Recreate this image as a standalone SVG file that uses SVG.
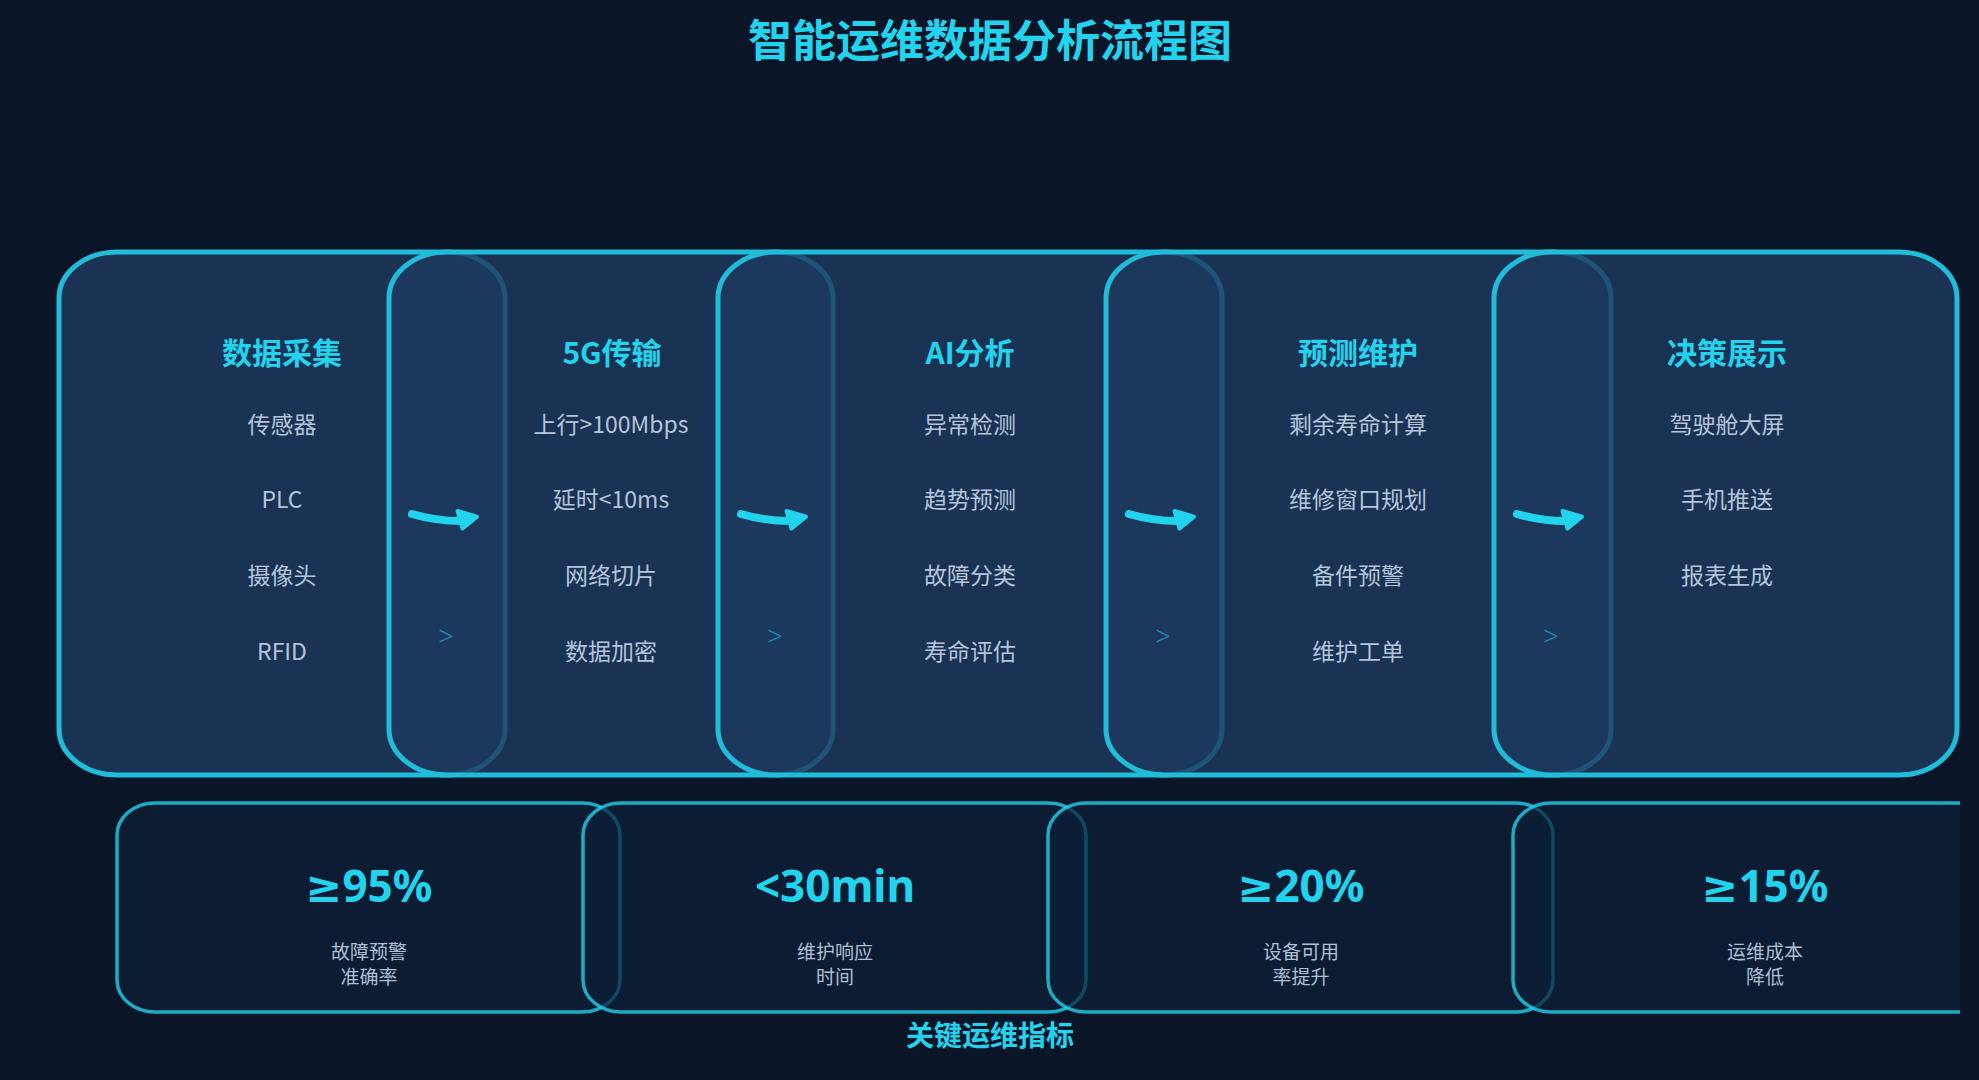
<svg xmlns="http://www.w3.org/2000/svg" xmlns:xlink="http://www.w3.org/1999/xlink" width="1979" height="1080" viewBox="0 0 1979 1080">
  <style>
    text { font-family: "Noto Sans CJK SC", "Microsoft YaHei", "Liberation Sans", sans-serif; text-anchor: middle; }
    .title { font-size: 44px; font-weight: 700; fill: #22d3ee; }
    .stage { fill: rgba(30,58,95,0.8); stroke: #21bcd9; stroke-width: 5; }
    .stage-title { font-size: 30px; font-weight: 700; fill: #22d3ee; }
    .item { font-size: 23px; font-weight: 400; fill: #b4c5da; }
    .metric { fill: rgba(12,32,56,0.7); stroke: rgba(34,211,238,0.78); stroke-width: 3.5; }
    .metric-value { font-family: "Noto Sans", "DejaVu Sans", "Liberation Sans", sans-serif; font-size: 44px; font-weight: 700; fill: #22d3ee; }
    .metric-label { font-size: 19px; font-weight: 400; fill: #adc0d6; }
    .section { font-size: 28px; font-weight: 700; fill: #22d3ee; }
    .chev { font-family: "Noto Sans", "DejaVu Sans", sans-serif; font-size: 27px; font-weight: 300; fill: #1c8db0; }
    .shaft { fill: none; stroke: #22d3ee; stroke-width: 8; stroke-linecap: round; }
    .head { fill: #22d3ee; stroke: #22d3ee; stroke-width: 4; stroke-linejoin: round; }
  </style>
  <defs>
    <clipPath id="viewClip">
      <rect x="0" y="0" width="1960" height="1080"/>
    </clipPath>
    <g id="flow-arrow">
      <path class="shaft" d="M0,0 Q24,7 49,7"/>
      <path class="head" d="M45.5,-3 L65,2.7 L50.5,14.5 Z"/>
    </g>
  </defs>

  <rect x="0" y="0" width="1979" height="1080" fill="#0a1528"/>

  <g id="title">
    <text class="title" x="990" y="57">智能运维数据分析流程图</text>
  </g>

  <g id="stages" clip-path="url(#viewClip)">
    <g id="stage-1">
      <rect class="stage" x="59" y="252" width="446" height="523" rx="58" ry="46"/>
      <text class="stage-title" x="282" y="364">数据采集</text>
      <text class="item" x="282" y="433">传感器</text>
      <text class="item" x="282" y="508">PLC</text>
      <text class="item" x="282" y="584">摄像头</text>
      <text class="item" x="282" y="660">RFID</text>
    </g>
    <g id="stage-2">
      <rect class="stage" x="389" y="252" width="444" height="523" rx="58" ry="46"/>
      <text class="stage-title" x="612" y="364">5G传输</text>
      <text class="item" x="611" y="433">上行&gt;100Mbps</text>
      <text class="item" x="611" y="508">延时&lt;10ms</text>
      <text class="item" x="611" y="584">网络切片</text>
      <text class="item" x="611" y="660">数据加密</text>
    </g>
    <g id="stage-3">
      <rect class="stage" x="718" y="252" width="504" height="523" rx="58" ry="46"/>
      <text class="stage-title" x="970" y="364">AI分析</text>
      <text class="item" x="970" y="433">异常检测</text>
      <text class="item" x="970" y="508">趋势预测</text>
      <text class="item" x="970" y="584">故障分类</text>
      <text class="item" x="970" y="660">寿命评估</text>
    </g>
    <g id="stage-4">
      <rect class="stage" x="1106" y="252" width="505" height="523" rx="58" ry="46"/>
      <text class="stage-title" x="1358" y="364">预测维护</text>
      <text class="item" x="1358" y="433">剩余寿命计算</text>
      <text class="item" x="1358" y="508">维修窗口规划</text>
      <text class="item" x="1358" y="584">备件预警</text>
      <text class="item" x="1358" y="660">维护工单</text>
    </g>
    <g id="stage-5">
      <rect class="stage" x="1494" y="252" width="463" height="523" rx="58" ry="46"/>
      <text class="stage-title" x="1727" y="364">决策展示</text>
      <text class="item" x="1727" y="433">驾驶舱大屏</text>
      <text class="item" x="1727" y="508">手机推送</text>
      <text class="item" x="1727" y="584">报表生成</text>
    </g>
  </g>

  <g id="connectors">
    <use xlink:href="#flow-arrow" href="#flow-arrow" x="412" y="514"/>
    <text class="chev" x="446" y="646">&gt;</text>
    <use xlink:href="#flow-arrow" href="#flow-arrow" x="741" y="514"/>
    <text class="chev" x="775" y="646">&gt;</text>
    <use xlink:href="#flow-arrow" href="#flow-arrow" x="1129" y="514"/>
    <text class="chev" x="1163" y="646">&gt;</text>
    <use xlink:href="#flow-arrow" href="#flow-arrow" x="1517" y="514"/>
    <text class="chev" x="1551" y="646">&gt;</text>
  </g>

  <g id="metrics" clip-path="url(#viewClip)">
    <g id="metric-1">
      <rect class="metric" x="117" y="803" width="503" height="209" rx="38" ry="32"/>
      <text class="metric-value" x="369" y="902">≥95%</text>
      <text class="metric-label" x="369" y="959">故障预警</text>
      <text class="metric-label" x="369" y="984">准确率</text>
    </g>
    <g id="metric-2">
      <rect class="metric" x="583" y="803" width="503" height="209" rx="38" ry="32"/>
      <text class="metric-value" x="835" y="902">&lt;30min</text>
      <text class="metric-label" x="835" y="959">维护响应</text>
      <text class="metric-label" x="835" y="984">时间</text>
    </g>
    <g id="metric-3">
      <rect class="metric" x="1048" y="803" width="505" height="209" rx="38" ry="32"/>
      <text class="metric-value" x="1301" y="902">≥20%</text>
      <text class="metric-label" x="1301" y="959">设备可用</text>
      <text class="metric-label" x="1301" y="984">率提升</text>
    </g>
    <g id="metric-4">
      <rect class="metric" x="1513" y="803" width="503" height="209" rx="38" ry="32"/>
      <text class="metric-value" x="1765" y="902">≥15%</text>
      <text class="metric-label" x="1765" y="959">运维成本</text>
      <text class="metric-label" x="1765" y="984">降低</text>
    </g>
  </g>

  <g id="section-label">
    <text class="section" x="990" y="1046">关键运维指标</text>
  </g>
</svg>
